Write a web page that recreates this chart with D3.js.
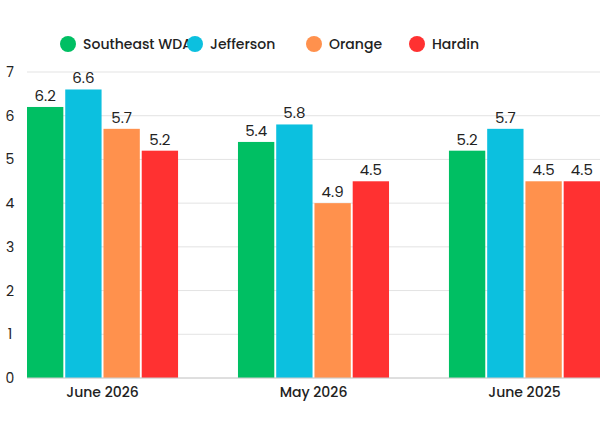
<!DOCTYPE html>
<html><head><meta charset="utf-8">
<script src="https://cdn.jsdelivr.net/npm/d3@7"></script>
<style>body{margin:0;background:#fff;font-family:Poppins,Inter,"Noto Sans",sans-serif;}</style>
</head><body><svg id="chart" width="605" height="429"></svg>
<script>
const categories = ["June 2026", "May 2026", "June 2025"];
const seriesNames = ["Southeast WDA", "Jefferson", "Orange", "Hardin"];
const seriesColors = ["#00bf63", "#0cc0df", "#ff914d", "#ff3131"];
const values = [
  [6.2, 6.6, 5.7, 5.2],
  [5.4, 5.8, 4.0, 4.5],
  [5.2, 5.7, 4.5, 4.5]
];
const labels = [
  ["6.2", "6.6", "5.7", "5.2"],
  ["5.4", "5.8", "4.9", "4.5"],
  ["5.2", "5.7", "4.5", "4.5"]
];
const yTicks = [0, 1, 2, 3, 4, 5, 6, 7];

const svg = d3.select("#chart");
const plotL = 27, plotR = 600, plotT = 72, plotB = 378;

const x = d3.scaleBand().domain(categories).range([plotL, plotR]).paddingInner(0.284);
const xs = d3.scaleBand().domain(seriesNames).range([0, x.bandwidth()]).paddingInner(0.05);
const y = d3.scaleLinear().domain([0, 7]).range([plotB, plotT]);

// grid
svg.append("g").selectAll("line").data(yTicks).enter().append("line")
  .attr("x1", plotL).attr("x2", plotR)
  .attr("y1", d => y(d)).attr("y2", d => y(d))
  .attr("stroke", "#e3e3e3").attr("stroke-width", 1);

svg.append("g").selectAll("text").data(yTicks).enter().append("text")
  .attr("x", 10).attr("y", d => y(d) + 5)
  .attr("text-anchor", "middle").attr("font-size", 14).attr("fill", "#222")
  .text(d => d);

const groups = svg.append("g").selectAll("g").data(categories).enter().append("g")
  .attr("transform", d => `translate(${x(d)},0)`);

groups.each(function (cat, ci) {
  const g = d3.select(this);
  seriesNames.forEach((s, si) => {
    const v = values[ci][si];
    g.append("rect")
      .attr("x", xs(s)).attr("y", y(v))
      .attr("width", xs.bandwidth()).attr("height", plotB - y(v))
      .attr("fill", seriesColors[si]);
    g.append("text")
      .attr("x", xs(s) + xs.bandwidth() / 2).attr("y", y(v) - 6)
      .attr("text-anchor", "middle").attr("font-size", 15).attr("fill", "#222")
      .text(labels[ci][si]);
  });
});

svg.append("line").attr("x1", plotL).attr("x2", plotR)
  .attr("y1", plotB).attr("y2", plotB).attr("stroke", "#ccc");

svg.append("g").selectAll("text").data(categories).enter().append("text")
  .attr("x", d => x(d) + x.bandwidth() / 2).attr("y", 397)
  .attr("text-anchor", "middle").attr("font-size", 14).attr("font-weight", 500).attr("fill", "#222")
  .text(d => d);

// legend
const legendX = [68, 195, 314, 417];
const lg = svg.append("g").selectAll("g").data(seriesNames).enter().append("g")
  .attr("transform", (d, i) => `translate(${legendX[i]},44)`);
lg.append("circle").attr("r", 8).attr("fill", (d, i) => seriesColors[i]);
lg.append("text").attr("x", 15).attr("y", 5).attr("font-size", 14).attr("font-weight", 500)
  .attr("fill", "#222").text(d => d);
</script></body></html>
